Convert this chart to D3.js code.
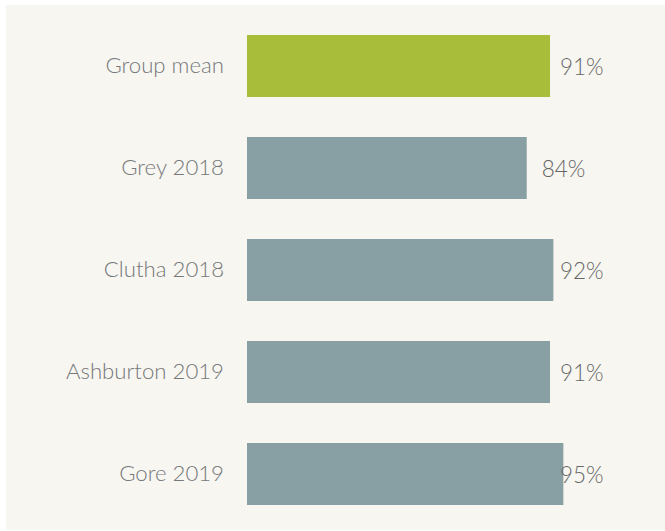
<!DOCTYPE html>
<html><head><meta charset="utf-8">
<script src="https://cdn.jsdelivr.net/npm/d3@7"></script>
<style>body{margin:0;background:#fff;}svg{display:block;}</style>
</head><body>
<script>
const categories = ["Group mean", "Grey 2018", "Clutha 2018", "Ashburton 2019", "Gore 2019"];
const values = [91, 84, 92, 91, 95];
const valueLabels = ["91%", "84%", "92%", "91%", "95%"];
const highlight = ["Group mean"];

const W = 665, H = 531;
const svg = d3.select("body").append("svg").attr("width", W).attr("height", H);
svg.append("rect").attr("x", 6).attr("y", 5).attr("width", W - 6).attr("height", 525).attr("fill", "#f7f6f1");

const x = d3.scaleLinear().domain([0, 100]).range([247, 580]);
const y = d3.scaleBand().domain(categories).range([35, 505]).paddingInner(40 / 102).paddingOuter(0);
const data = categories.map((c, i) => ({ cat: c, value: values[i], label: valueLabels[i] }));
const labelCap = 94;

svg.selectAll("rect.bar").data(data).join("rect").attr("class", "bar")
  .attr("x", x(0)).attr("y", d => y(d.cat))
  .attr("width", d => x(d.value) - x(0)).attr("height", y.bandwidth())
  .attr("fill", d => highlight.includes(d.cat) ? "#a8bd3a" : "#889fa4");

const font = "Lato, 'Open Sans', sans-serif";
svg.selectAll("text.cat").data(data).join("text").attr("class", "cat")
  .attr("x", 224).attr("y", d => y(d.cat) + y.bandwidth() / 2)
  .attr("dy", "0.33em").attr("text-anchor", "end")
  .attr("font-family", font).attr("font-weight", 300).attr("font-size", 22.2).attr("fill", "#76787a")
  .text(d => d.cat);

svg.selectAll("text.val").data(data).join("text").attr("class", "val")
  .attr("x", d => Math.min(x(d.value) + 15, x(labelCap)))
  .attr("y", d => y(d.cat) + y.bandwidth() / 2 + 1)
  .attr("dy", "0.35em")
  .attr("font-family", font).attr("font-weight", 300).attr("font-size", 22.5).attr("fill", "#666")
  .text(d => d.label);
</script>
</body></html>
